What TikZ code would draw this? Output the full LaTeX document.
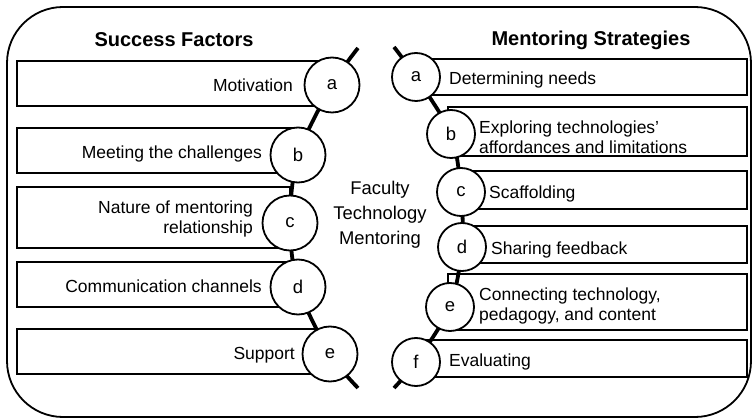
\documentclass[tikz,border=0pt]{standalone}
\usepackage{fontspec}
\setmainfont{Liberation Sans}

\tikzset{
    frame/.style={draw, line width=1.8pt, rounded corners=56pt},
    itembox/.style={draw, line width=1.8pt},
    spine/.style={line width=3.8pt},
    letter/.style={circle, draw, fill=white, line width=1.8pt, inner sep=0pt,
        font=\fontsize{18.5}{20}\selectfont},
    itemtext/.style={inner sep=0pt, font=\fontsize{17.5}{20}\selectfont},
    oneline/.style={itemtext, text height=12.5pt, text depth=0pt},
    heading/.style={inner sep=0pt, text height=14.4pt, text depth=0pt,
        font=\bfseries\fontsize{20}{24}\selectfont},
}

\begin{document}
\begin{tikzpicture}[x=1pt,y=-1pt]
\useasboundingbox (0,0) rectangle (752,419);

\draw[frame] (7,7) rectangle (751,417);

\node[heading] (sfhead) at (174,39) {Success Factors};
\node[heading] (mshead) at (591,38) {Mentoring Strategies};
\node[itemtext, align=center, font=\fontsize{18.4}{25}\selectfont] (ftm) at (380,214.5)
    {Faculty\\Technology\\Mentoring};

% success factors
\coordinate (stop) at (358,48);
\coordinate (sa) at (332,85);
\coordinate (sb) at (298,155);
\coordinate (sc) at (290,223);
\coordinate (sd) at (298,287);
\coordinate (se) at (330,354);
\coordinate (sbot) at (358,388);

\draw[itembox] (17,61) rectangle (332,106);
\draw[itembox] (17,128) rectangle (298,173);
\draw[itembox] (17,187) rectangle (290,248);
\draw[itembox] (17,262) rectangle (298,307);
\draw[itembox] (17,329) rectangle (330,374);

\draw[spine] plot[smooth] coordinates {(stop) (sa) (sb) (sc) (sd) (se) (sbot)};

\node[letter, minimum size=55pt] (sfa) at (sa) {a};
\node[letter, minimum size=55pt] (sfb) at (sb) {b};
\node[letter, minimum size=55pt] (sfc) at (sc) {c};
\node[letter, minimum size=55pt] (sfd) at (sd) {d};
\node[letter, minimum size=55pt] (sfe) at (se) {e};

\node[oneline, anchor=east] (motiv) at (293,85) {Motivation};
\node[oneline, anchor=east] (meet) at (262,152) {Meeting the challenges};
\node[itemtext, anchor=east, align=right] (nature) at (253,219)
    {Nature of mentoring\\relationship};
\node[oneline, anchor=east] (comm) at (262,286) {Communication channels};
\node[oneline, anchor=east] (supp) at (295,353) {Support};

% mentoring strategies
\coordinate (mtop) at (394,47);
\coordinate (ma) at (416,77);
\coordinate (mb) at (451,134);
\coordinate (mc) at (461,192);
\coordinate (md) at (462,247);
\coordinate (me) at (450,307);
\coordinate (mf) at (416,362);
\coordinate (mbot) at (394,388);

\draw[itembox] (416,59) rectangle (747,95);
\draw[itembox] (448,107) rectangle (747,156);
\draw[itembox] (461,171) rectangle (747,209);
\draw[itembox] (462,226) rectangle (747,263);
\draw[itembox] (448,274) rectangle (747,330);
\draw[itembox] (416,340) rectangle (747,377);

\draw[spine] plot[smooth] coordinates {(mtop) (ma) (mb) (mc) (md) (me) (mf) (mbot)};

\node[letter, minimum size=48pt] (msa) at (ma) {a};
\node[letter, minimum size=48pt] (msb) at (mb) {b};
\node[letter, minimum size=48pt] (msc) at (mc) {c};
\node[letter, minimum size=48pt] (msd) at (md) {d};
\node[letter, minimum size=48pt] (mse) at (me) {e};
\node[letter, minimum size=48pt] (msf) at (mf) {f};

\node[oneline, anchor=west] (needs) at (449,78) {Determining needs};
\node[itemtext, anchor=west, align=left] (explore) at (479,137)
    {Exploring technologies'\\affordances and limitations};
\node[oneline, anchor=west] (scaff) at (489,192) {Scaffolding};
\node[oneline, anchor=west] (share) at (491,248) {Sharing feedback};
\node[itemtext, anchor=west, align=left] (connect) at (479,306)
    {Connecting technology,\\pedagogy, and content};
\node[oneline, anchor=west] (eval) at (449,360) {Evaluating};

\end{tikzpicture}
\end{document}
